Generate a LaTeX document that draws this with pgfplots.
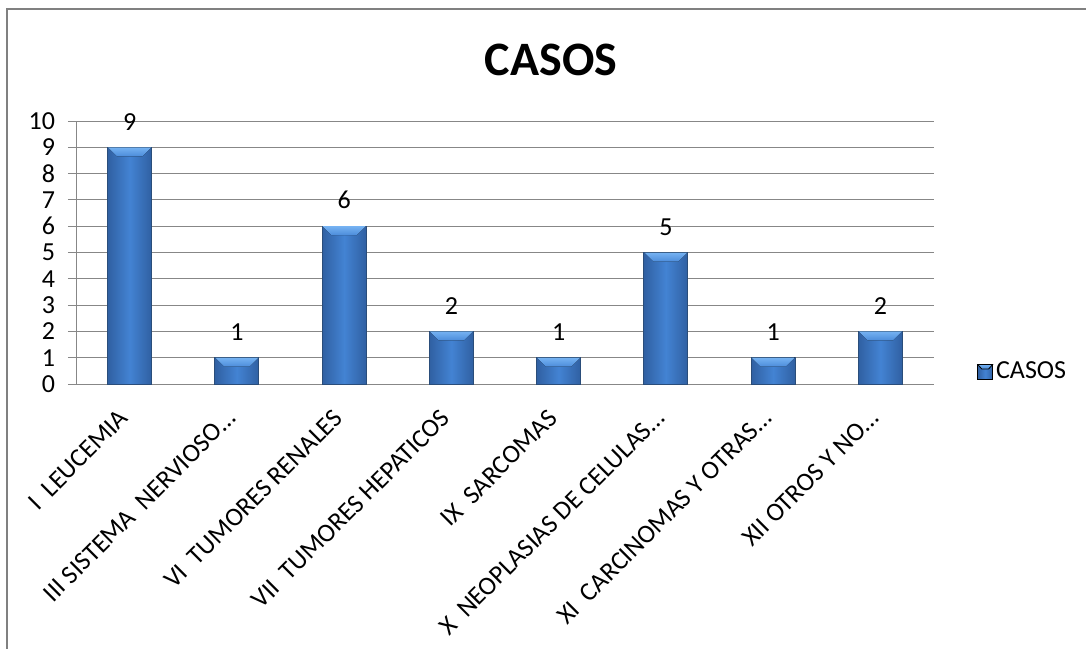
\documentclass[border=0pt]{standalone}
\usepackage{fontspec}
\setmainfont{Carlito}
\usepackage{pgfplots}
\pgfplotsset{compat=1.18}

\definecolor{gridgray}{HTML}{878787}
\definecolor{frame}{HTML}{808080}
\definecolor{baredge}{HTML}{3060A2}
\definecolor{barmid}{HTML}{4383D3}
\definecolor{barline}{HTML}{2A4D7A}
\definecolor{captop}{HTML}{75B2F2}
\definecolor{capbot}{HTML}{4C8CDA}

\pgfplotstableread{
x  casos
0  9
1  1
2  6
3  2
4  1
5  5
6  1
7  2
}\casos

% bevelled cap drawn on top of each bar
\newcommand{\barcap}{\tikz\fill[top color=captop, bottom color=capbot]
  (0pt,0pt) -- (21.6pt,0pt) -- (17.1pt,-4.5pt) -- (4.5pt,-4.5pt) -- cycle;}

\newcommand{\lblfont}{\fontsize{13}{15}\selectfont}

\pgfplotsset{
  cylbar/.style={bar shift=0pt, draw=barline, line width=0.4pt, forget plot,
    left color=baredge, right color=baredge, middle color=barmid},
}

\begin{document}
\begin{tikzpicture}
  \useasboundingbox (0pt,0pt) rectangle (543pt,324pt);
  \fill[white] (0pt,0pt) rectangle (543pt,324pt);
  % chart frame
  \draw[frame, line width=1.2pt] (3.5pt,-10pt) |- (560pt,319.5pt);
  % title
  \node[font=\fontsize{24}{28}\selectfont\bfseries] at (275.5pt,294pt) {CASOS};

  \begin{axis}[
    at={(38pt,132pt)}, anchor=south west,
    scale only axis, width=429pt, height=131.5pt,
    xmin=-0.5, xmax=7.5, ymin=0, ymax=10,
    axis x line=bottom, axis y line=left,
    axis line style={gridgray, line width=0.5pt, -},
    ytick={0,1,...,10},
    ymajorgrids, grid style={gridgray, line width=0.5pt},
    tick align=outside,
    major tick length=4pt, minor tick length=4pt,
    ytick style={gridgray, line width=0.5pt},
    xtick={0,...,7},
    xtick style={draw=none},
    minor xtick={-0.5,0.5,...,7.5},
    minor tick style={gridgray, line width=0.5pt},
    xticklabels={
      I\ \ LEUCEMIA,
      III SISTEMA\ \ NERVIOSO…,
      VI\ \ TUMORES RENALES,
      VII\ \ TUMORES HEPATICOS,
      IX\ \ SARCOMAS,
      X\ \ NEOPLASIAS DE CELULAS…,
      XI\ \ CARCINOMAS Y OTRAS…,
      XII OTROS Y NO…},
    xticklabel style={xshift=-6pt, yshift=-3pt, rotate=45, anchor=north east, font=\lblfont},
    yticklabel style={font=\lblfont, xshift=-3pt},
    /pgf/number format/assume math mode=true,
    ybar, bar width=22pt,
    legend style={at={(1.050,0.046)}, anchor=west, draw=none, fill=none,
      font=\lblfont, inner sep=0pt,
      nodes={inner sep=1.5pt}},
    clip=false,
  ]
    % one shaded bar per category
    \addplot[cylbar] coordinates {(0,9)};
    \addplot[cylbar] coordinates {(1,1)};
    \addplot[cylbar] coordinates {(2,6)};
    \addplot[cylbar] coordinates {(3,2)};
    \addplot[cylbar] coordinates {(4,1)};
    \addplot[cylbar] coordinates {(5,5)};
    \addplot[cylbar] coordinates {(6,1)};
    \addplot[cylbar] coordinates {(7,2)};
    % value labels above the bars
    \addplot[bar shift=0pt, draw=none, fill=none, forget plot,
      nodes near coords,
      every node near coord/.append style={font=\lblfont, text=black, yshift=5pt},
    ] table[x=x, y=casos] {\casos};
    % bevelled caps
    \addplot[bar shift=0pt, draw=none, fill=none, forget plot,
      nodes near coords={\barcap},
      every node near coord/.append style={inner sep=0pt, yshift=-4.7pt},
    ] table[x=x, y=casos] {\casos};
    \addlegendimage{legend image code/.code={
      \fill[left color=baredge, right color=baredge, middle color=barmid]
        (0pt,-3.75pt) rectangle (7.5pt,3.75pt);
      \fill[top color=captop, bottom color=capbot]
        (0pt,3.75pt) -- (7.5pt,3.75pt) -- (5.5pt,1.5pt) -- (2pt,1.5pt) -- cycle;
    }}
    \addlegendentry{CASOS}
  \end{axis}
\end{tikzpicture}
\end{document}
